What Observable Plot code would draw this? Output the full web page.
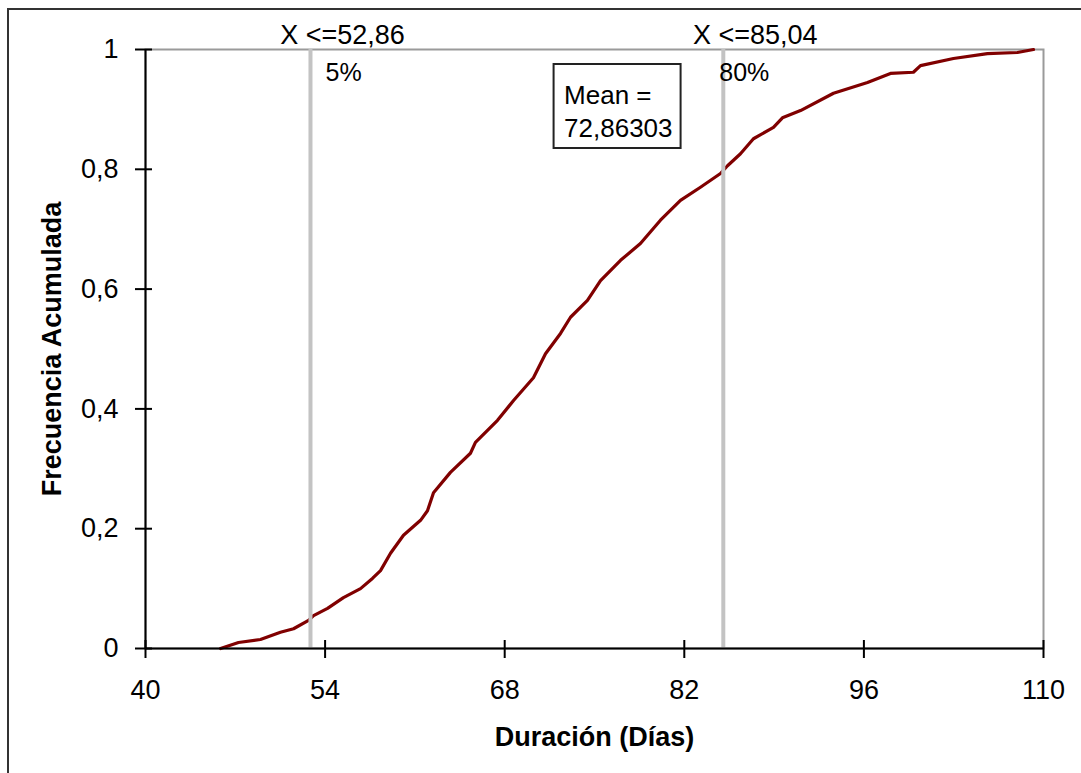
<!DOCTYPE html>
<html><head><meta charset="utf-8">
<script src="https://cdn.jsdelivr.net/npm/d3@7"></script>
<script src="https://cdn.jsdelivr.net/npm/@observablehq/plot@0.6"></script>
<style>
html,body{margin:0;padding:0;background:#fff;overflow:hidden;}
#wrap{position:relative;width:1081px;height:773px;}
#border{position:absolute;left:7px;top:8px;width:1200px;height:900px;border:2px solid #333;pointer-events:none;}
</style></head><body><div id="wrap"><div id="border"></div></div>
<script>
// Cumulative frequency curve
const duration = [45.85, 47.25, 48.96, 50.52, 51.54, 52.71, 53.10, 54.19, 55.43, 56.76, 57.69, 58.32, 59.10, 60.11, 61.44, 61.98, 62.45, 63.77, 65.33, 65.72, 67.44, 68.69, 70.24, 71.18, 72.35, 73.13, 74.45, 75.47, 77.03, 78.58, 80.14, 81.70, 83.26, 84.82, 85.37, 86.38, 87.39, 88.95, 89.65, 91.06, 93.63, 96.28, 98.07, 99.86, 100.41, 102.98, 105.63, 107.97, 109.22];
const cumFreq = [0.000, 0.010, 0.015, 0.027, 0.033, 0.047, 0.055, 0.067, 0.085, 0.100, 0.117, 0.130, 0.159, 0.189, 0.214, 0.230, 0.260, 0.294, 0.326, 0.344, 0.381, 0.414, 0.452, 0.492, 0.526, 0.553, 0.581, 0.614, 0.648, 0.676, 0.715, 0.748, 0.770, 0.793, 0.806, 0.826, 0.851, 0.870, 0.886, 0.898, 0.927, 0.945, 0.960, 0.962, 0.973, 0.985, 0.993, 0.995, 1.000];

const xTicks = [40, 54, 68, 82, 96, 110];
const yTicks = [0, 0.2, 0.4, 0.6, 0.8, 1];
const pctValues = [52.86, 85.04];
const pctTopLabels = ["X <=52,86", "X <=85,04"];
const pctLabels = ["5%", "80%"];
const meanValue = 72.86303;
const meanLabel = "Mean =\n72,86303";
const xTitle = "Duración (Días)";
const yTitle = "Frecuencia Acumulada";

const curve = duration.map((d, i) => ({x: d, y: cumFreq[i]}));
const SANS = "'Liberation Sans', Arial, sans-serif";
const fmtY = d => String(d).replace(".", ",");

const chart = Plot.plot({
  width: 1081,
  height: 773,
  marginLeft: 145,
  marginRight: 38,
  marginTop: 49,
  marginBottom: 125,
  style: {background: "white", fontFamily: SANS, color: "#000"},
  x: {domain: [40, 110], axis: null},
  y: {domain: [0, 1], axis: null},
  marks: [
    Plot.frame({stroke: "#9a9a9a", strokeWidth: 2}),
    Plot.line(curve, {x: "x", y: "y", stroke: "#800000", strokeWidth: 3.2}),
    Plot.ruleX(pctValues, {x: d => d, y1: 0, y2: 1, stroke: "#c3c3c3", strokeWidth: 4}),
    Plot.ruleX([xTicks[0]], {x: d => d, y1: 0, y2: 1, stroke: "#000", strokeWidth: 2}),
    Plot.ruleY([yTicks[0]], {y: d => d, x1: 40, x2: 110, stroke: "#000", strokeWidth: 2}),
    Plot.ruleX(xTicks, {x: d => d, y1: 0, y2: 0, insetTop: -8, insetBottom: -10, stroke: "#000", strokeWidth: 2}),
    Plot.ruleY(yTicks, {y: d => d, x1: 40, x2: 40, insetLeft: -10, insetRight: -7, stroke: "#000", strokeWidth: 2}),
    Plot.axisX({ticks: xTicks, tickSize: 0, tickPadding: 31, fontSize: 27, fontFamily: SANS, label: null, tickFormat: d => String(d)}),
    Plot.axisY({ticks: yTicks, tickSize: 0, tickPadding: 27, fontSize: 27, fontFamily: SANS, label: null, tickFormat: fmtY}),
    Plot.text(pctValues, {x: d => d, y: 1, text: (d, i) => pctTopLabels[i], textAnchor: "middle", lineAnchor: "bottom", dx: 32, dy: -6, fontSize: 27, fontFamily: SANS}),
    Plot.text(pctValues, {filter: (d, i) => i === 0, x: d => d, y: 1, text: () => pctLabels[0], textAnchor: "start", lineAnchor: "top", dx: 15, dy: 14, fontSize: 25, fontFamily: SANS}),
    Plot.text(pctValues, {filter: (d, i) => i === 1, x: d => d, y: 1, text: () => pctLabels[1], textAnchor: "start", lineAnchor: "top", dx: -4, dy: 14, fontSize: 25, fontFamily: SANS}),
    Plot.rect([meanValue], {x1: d => d, x2: d => d, y1: 1, y2: 1, insetLeft: -13, insetRight: -114, insetTop: 15, insetBottom: -99, fill: "white", stroke: "#222", strokeWidth: 2}),
    Plot.text([meanValue], {x: d => d, y: 1, text: () => meanLabel, textAnchor: "start", lineAnchor: "top", dx: -3, dy: 31, fontSize: 26, lineHeight: 1.27, fontFamily: SANS}),
    Plot.text([xTitle], {frameAnchor: "bottom", text: d => d, textAnchor: "middle", lineAnchor: "bottom", dy: 97, fontSize: 27, fontWeight: "bold", fontFamily: SANS}),
    Plot.text([yTitle], {frameAnchor: "left", text: d => d, rotate: -90, textAnchor: "middle", lineAnchor: "bottom", dx: -85, fontSize: 27, fontWeight: "bold", fontFamily: SANS})
  ]
});
document.getElementById("wrap").prepend(chart);
</script>
</body></html>
